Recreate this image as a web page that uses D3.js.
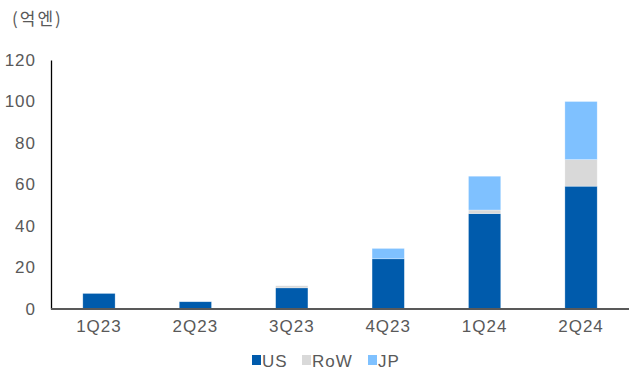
<!DOCTYPE html>
<html>
<head>
<meta charset="utf-8">
<script src="https://cdn.jsdelivr.net/npm/d3@7/dist/d3.min.js"></script>
<style>
  body { margin: 0; background: #fff; }
  svg { display: block; font-family: "Liberation Sans", Arial, "Noto Sans CJK KR", sans-serif; }
</style>
</head>
<body>
<svg id="chart" width="629" height="372"></svg>
<script>
// Quarterly sales by region (100M yen)
const categories = ["1Q23", "2Q23", "3Q23", "4Q23", "1Q24", "2Q24"];
const seriesNames = ["US", "RoW", "JP"];
const usValues  = [7.5, 3.5, 10.2, 24.2, 46.0, 59.2];
const rowValues = [0, 0, 1.0, 0, 1.7, 12.8];
const jpValues  = [0, 0, 0, 5.0, 16.3, 28.0];
const yTicks = [0, 20, 40, 60, 80, 100, 120];
const colors = ["#005BAC", "#D9D9D9", "#7FC1FF"];

const svg = d3.select("#chart");
const margin = { left: 51, right: 0, top: 60, bottom: 63 };
const width = 629, height = 372;
const textColor = "#595959";
const labelFont = "'Liberation Sans', Arial, sans-serif";

const x = d3.scaleBand().domain(categories)
  .range([margin.left, width - margin.right]).paddingInner(0.665).paddingOuter(0.33);
const y = d3.scaleLinear().domain([0, 120]).range([height - margin.bottom, margin.top]);

const rows = categories.map((c, i) => ({ cat: c, US: usValues[i], RoW: rowValues[i], JP: jpValues[i] }));
const stacked = d3.stack().keys(seriesNames)(rows);

// bars
svg.append("g").selectAll("g").data(stacked).join("g")
  .attr("fill", (d, i) => colors[i])
  .selectAll("rect").data(d => d).join("rect")
  .attr("x", d => x(d.data.cat))
  .attr("width", x.bandwidth())
  .attr("y", d => y(d[1]))
  .attr("height", d => Math.max(0, y(d[0]) - y(d[1])))
  .attr("stroke", "#ffffff").attr("stroke-opacity", 0.5).attr("stroke-width", 0.6);

// y axis
const yAxis = svg.append("g").attr("transform", `translate(${margin.left},0)`)
  .call(d3.axisLeft(y).tickValues(yTicks).tickSize(0).tickPadding(15));
yAxis.select(".domain").attr("stroke", "#000").attr("stroke-width", 1.3);
yAxis.selectAll("text").attr("font-size", 17).attr("fill", textColor)
  .attr("letter-spacing", 1).attr("font-family", labelFont);

// x axis
const xAxis = svg.append("g").attr("transform", `translate(0,${y(0)})`)
  .call(d3.axisBottom(x).tickSize(0).tickPadding(11));
xAxis.select(".domain").attr("stroke", textColor).attr("stroke-width", 2)
  .attr("d", `M${margin.left},0H${width}`);
xAxis.selectAll("text").attr("font-size", 17).attr("fill", textColor)
  .attr("letter-spacing", 1).attr("font-family", labelFont);

// unit label
svg.append("text").attr("x", 12).attr("y", 25)
  .attr("font-size", 17).attr("fill", textColor).attr("letter-spacing", 2)
  .attr("font-family", "'Noto Sans CJK KR', sans-serif")
  .text("(억엔)");

// legend
const legendX = [252, 302, 368];
const legend = svg.append("g");
seriesNames.forEach((name, i) => {
  const g = legend.append("g").attr("transform", `translate(${legendX[i]},361)`);
  g.append("rect").attr("x", 0).attr("y", -6).attr("width", 9).attr("height", 10).attr("fill", colors[i]);
  g.append("text").attr("x", 10).attr("y", 0).attr("dy", "0.35em")
    .attr("font-size", 17).attr("letter-spacing", 1).attr("fill", textColor)
    .attr("font-family", labelFont).text(name);
});
</script>
</body>
</html>
